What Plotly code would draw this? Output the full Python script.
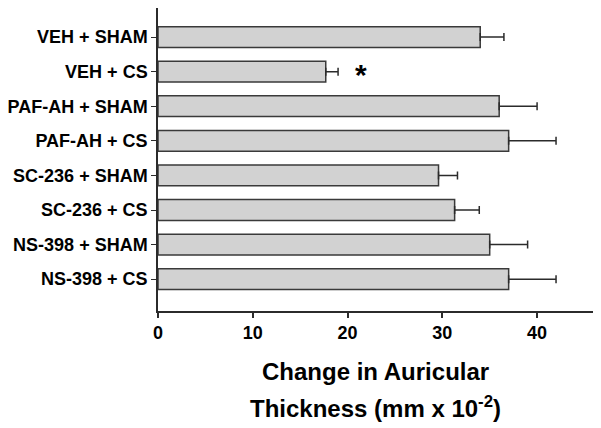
import plotly.graph_objects as go

groups = ["VEH + SHAM", "VEH + CS", "PAF-AH + SHAM", "PAF-AH + CS",
          "SC-236 + SHAM", "SC-236 + CS", "NS-398 + SHAM", "NS-398 + CS"]
means = [34.0, 17.7, 36.0, 37.0, 29.6, 31.3, 35.0, 37.0]
errors = [2.5, 1.3, 4.0, 5.0, 2.0, 2.6, 4.0, 5.0]
x_ticks = [0, 10, 20, 30, 40]

FONT = "Arial, Liberation Sans, sans-serif"
DARK = "#2b2b2b"

fig = go.Figure()
fig.add_trace(go.Bar(
    x=means, y=groups, orientation="h", width=0.6,
    marker=dict(color="#d2d2d2", line=dict(color="#3a3a3a", width=1.5)),
    error_x=dict(type="data", array=errors, symmetric=False,
                 arrayminus=[0] * len(errors),
                 color=DARK, thickness=1.5, width=4),
    showlegend=False,
))

fig.add_annotation(x=21.4, y="VEH + CS", text="<b>*</b>", showarrow=False,
                   font=dict(family=FONT, size=30, color="black"), yshift=-3)

fig.add_annotation(x=0.5, xref="paper", y=-0.201, yref="paper", yanchor="middle",
                   text="<b>Change in Auricular</b>", showarrow=False,
                   font=dict(family=FONT, size=24, color="black"))
fig.add_annotation(x=0.5, xref="paper", y=-0.317, yref="paper", yanchor="middle",
                   text="<b>Thickness (mm x 10<sup>-2</sup>)</b>", showarrow=False,
                   font=dict(family=FONT, size=24, color="black"))

fig.update_layout(
    width=593, height=420,
    margin=dict(l=150, r=8, t=0, b=117, autoexpand=False),
    paper_bgcolor="white", plot_bgcolor="white",
    font=dict(family=FONT, color="black"),
    bargap=0.4,
)
fig.update_xaxes(
    range=[0, 45.9], tickvals=x_ticks, ticktext=[f"<b>{v}</b>" for v in x_ticks],
    ticks="outside", ticklen=5, tickwidth=1.5, tickcolor=DARK,
    showline=True, linecolor=DARK, linewidth=1.5, showgrid=False, zeroline=False,
    tickfont=dict(family=FONT, size=18, color="black"), automargin=False,
)
fig.update_yaxes(
    categoryorder="array", categoryarray=groups, range=[7.92, -0.84],
    tickvals=groups, ticktext=[f"<b>{g}</b>" for g in groups],
    ticks="outside", ticklen=5, tickwidth=1.2, tickcolor=DARK,
    showline=True, linecolor=DARK, linewidth=1.5, showgrid=False,
    tickfont=dict(family=FONT, size=18, color="black"), automargin=False,
)

fig.write_html("out.html")
